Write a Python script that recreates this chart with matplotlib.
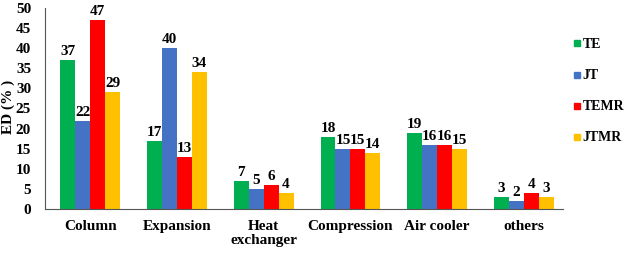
import matplotlib.pyplot as plt
from matplotlib.lines import Line2D
import numpy as np

categories = ["Column", "Expansion", "Heat\nexchanger", "Compression", "Air cooler", "others"]
series_names = ["TE", "JT", "TEMR", "JTMR"]
TE = [37, 17, 7, 18, 19, 3]
JT = [22, 40, 5, 15, 16, 2]
TEMR = [47, 13, 6, 15, 16, 4]
JTMR = [29, 34, 4, 14, 15, 3]
yticks = [0, 5, 10, 15, 20, 25, 30, 35, 40, 45, 50]

colors = ["#00B050", "#4472C4", "#FF0000", "#FFC000"]
series = [TE, JT, TEMR, JTMR]

plt.rcParams['font.family'] = ['Liberation Serif', 'DejaVu Serif']
fig = plt.figure(figsize=(6.32, 2.54), dpi=100)
ax = fig.add_axes([45/632, 1-209/254, (563-45)/632, (209-8)/254])

x = np.arange(len(categories))
w = 0.172
for i, (vals, c, name) in enumerate(zip(series, colors, series_names)):
    pos = x + (i - 1.5) * w
    ax.bar(pos, vals, width=w, color=c, label=name)
    for p, v in zip(pos, vals):
        ax.text(p, v + 0.5, str(v), ha='center', va='bottom', fontsize=11, fontweight='bold')

ax.set_xlim(-0.52, 5.45)
ax.set_ylim(0, 50)
ax.set_yticks(yticks)
ax.set_xticks(x)
ax.set_xticklabels(categories, fontsize=11, fontweight='bold', linespacing=1.1)
for lab in ax.get_yticklabels():
    lab.set_fontweight('bold')
    lab.set_fontsize(11)
ax.tick_params(axis='both', length=0)
ax.tick_params(axis='y', pad=10)
ax.tick_params(axis='x', pad=8)
ax.spines['top'].set_visible(False)
ax.spines['right'].set_visible(False)
ax.spines['left'].set_color('#555555')
ax.spines['bottom'].set_color('#555555')
fig.text(8/632, 1-107/254, "ED (% )", rotation=90, ha='center', va='center',
         fontsize=11, fontweight='bold')

handles = [Line2D([], [], marker='s', linestyle='none', color=c, markersize=5) for c in colors]
leg = ax.legend(handles, series_names, loc='upper left', bbox_to_anchor=(565/632, 1-30/254),
                bbox_transform=fig.transFigure, borderaxespad=0.2,
                frameon=False, handlelength=0.5, handletextpad=0.15,
                labelspacing=1.3, prop={'weight': 'bold', 'size': 10})

fig.savefig("out.png", dpi=100)
